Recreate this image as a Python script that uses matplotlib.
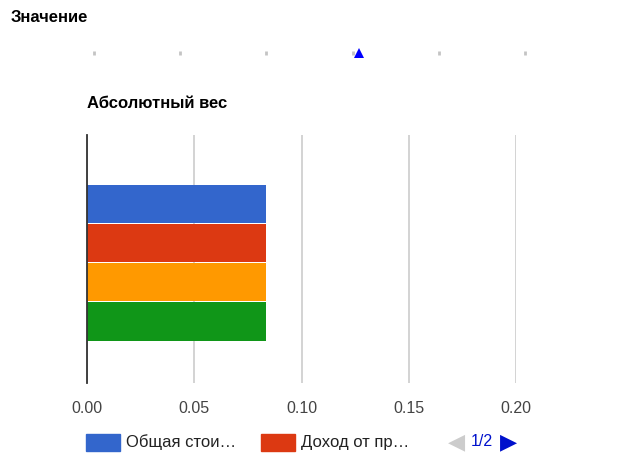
import numpy as np
import matplotlib.pyplot as plt
from matplotlib.patches import Rectangle

plt.rcParams['font.family'] = ['Liberation Sans', 'DejaVu Sans']

# data
series = ['Общая стоимость', 'Доход от продаж', 'Серия 3', 'Серия 4']
values = [0.0833, 0.0833, 0.0833, 0.0833]
colors = ['#3366cc', '#dc3912', '#ff9900', '#109618']
xticks = [0.00, 0.05, 0.10, 0.15, 0.20]
legend_labels = ['Общая стои…', 'Доход от пр…']
slider_ticks = [0, 1, 2, 3, 4, 5]
slider_pos = 3.07

W, H = 622, 459
fig = plt.figure(figsize=(W / 100, H / 100), dpi=100)

def fx(px):
    return px / W

def fy(py):
    return 1 - py / H

# header + slider
fig.text(fx(11), fy(17), 'Значение', fontsize=12, fontweight='bold', va='center', ha='left')
sax = fig.add_axes([fx(94), fy(55), fx(525) - fx(94), fy(51) - fy(55)])
sax.set_xlim(slider_ticks[0], slider_ticks[-1])
sax.set_ylim(0, 1)
sax.axis('off')
for t in slider_ticks:
    sax.plot([t, t], [0, 1], color='#c4c4c4', lw=2, solid_capstyle='butt', clip_on=False)
sax.plot([slider_pos], [0.55], marker='^', color='#0000ff', ms=7, mew=0, clip_on=False, zorder=5)

# bar chart
fig.text(fx(87), fy(104), 'Абсолютный вес', fontsize=12, fontweight='bold', va='center', ha='left')
left, right, top, bottom = 87, 516, 135, 383
ax = fig.add_axes([fx(left), fy(bottom), fx(right) - fx(left), fy(top) - fy(bottom)])
n = len(values)
ypos = np.arange(n)
ax.barh(ypos, values, height=0.975, color=colors, zorder=3)
ax.set_ylim(n - 0.5 + 1.07, -0.5 - 1.25)
ax.set_xlim(0, 0.2)
ax.set_xticks(xticks)
ax.set_xticklabels(['%.2f' % v for v in xticks], fontsize=11.5, color='#444444')
ax.set_yticks([])
ax.tick_params(axis='x', length=0, pad=13)
ax.grid(axis='x', color='#cccccc', lw=1.2, zorder=0)
for s in ['top', 'right', 'bottom']:
    ax.spines[s].set_visible(False)
ax.spines['left'].set_color('#333333')
ax.spines['left'].set_linewidth(1.3)
ax.spines['left'].set_zorder(4)

# legend
lx = [86, 261]
for i, lab in enumerate(legend_labels):
    fig.patches.append(Rectangle((fx(lx[i]), fy(451)), fx(34), fy(434) - fy(451),
                                 transform=fig.transFigure, color=colors[i]))
    fig.text(fx(lx[i] + 40), fy(442), lab, fontsize=12, color='#222222', va='center', ha='left')
fig.text(fx(456), fy(442), '◀', fontsize=16, color='#cccccc', va='center', ha='center',
         family=['DejaVu Sans'])
fig.text(fx(482), fy(442), '1/2', fontsize=11.5, color='#0011cc', va='center', ha='center')
fig.text(fx(509), fy(442), '▶', fontsize=16, color='#0011cc', va='center', ha='center',
         family=['DejaVu Sans'])

fig.savefig('out.png', dpi=100)
